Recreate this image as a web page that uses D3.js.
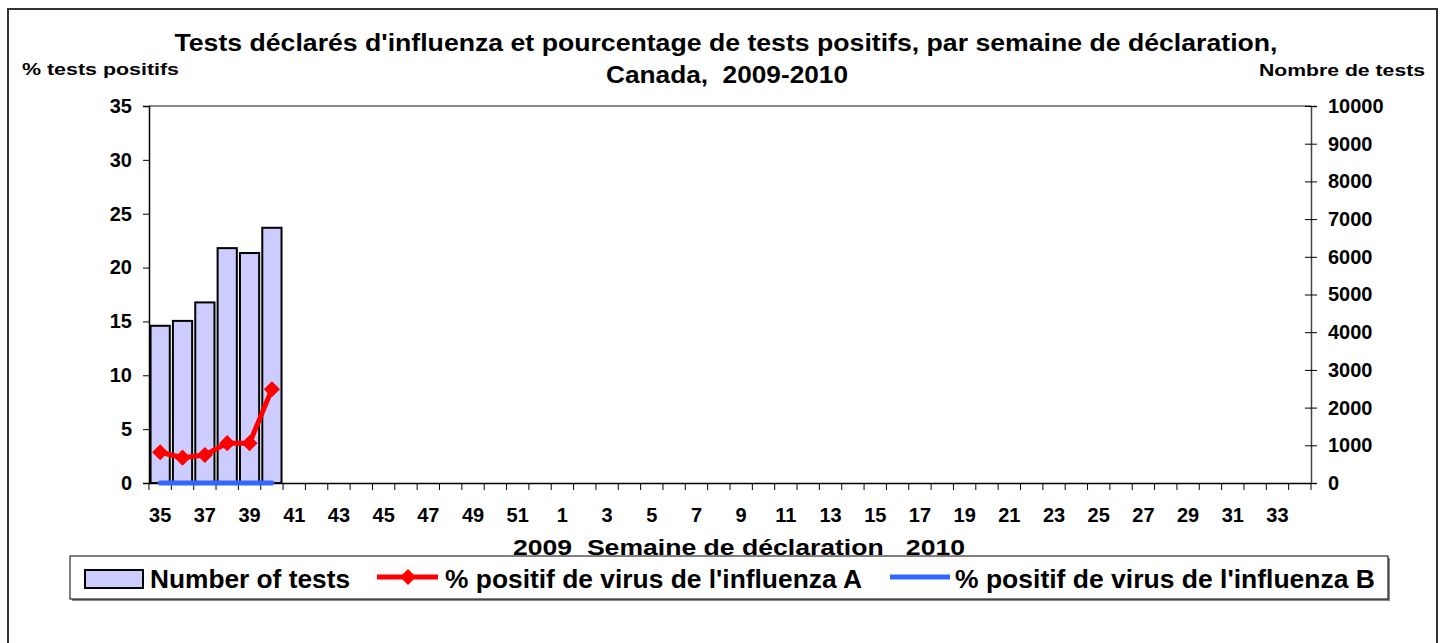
<!DOCTYPE html>
<html lang="fr">
<head>
<meta charset="UTF-8">
<title>Tests d'influenza</title>
<script src="https://d3js.org/d3.v7.min.js"></script>
<style>
    body { margin: 0; background: #fff; }
    text { font-family: 'Liberation Sans', Arial, sans-serif; font-weight: bold; fill: #000; white-space: pre; }
</style>
</head>
<body>
<script>

    const width  = 1442;
    const height = 643;

    // weeks 35..52 of 2009 then 1..34 of 2010
    const weeks = [35, 36, 37, 38, 39, 40, 41, 42, 43, 44, 45, 46, 47, 48, 49, 50, 51, 52,
                   1, 2, 3, 4, 5, 6, 7, 8, 9, 10, 11, 12, 13, 14, 15, 16, 17, 18, 19, 20,
                   21, 22, 23, 24, 25, 26, 27, 28, 29, 30, 31, 32, 33, 34];
    const nbTests   = [4170, 4300, 4790, 6230, 6100, 6770];
    const pctFluA   = [2.85, 2.35, 2.6, 3.7, 3.7, 8.7];
    const pctFluB   = [0, 0, 0, 0, 0, 0];
    const leftTicks  = [0, 5, 10, 15, 20, 25, 30, 35];
    const rightTicks = [0, 1000, 2000, 3000, 4000, 5000, 6000, 7000, 8000, 9000, 10000];

    const plot = {left: 149, right: 1311, top: 106, bottom: 483};
    const font = "'Liberation Sans', Arial, sans-serif";

    // stretch a label to the width it has in the original
    function fit(sel, w) {
        return sel.attr("textLength", w).attr("lengthAdjust", "spacingAndGlyphs");
    }

    const svg = d3.select("body").append("svg")
        .attr("width", width)
        .attr("height", height);

    // outer frame
    svg.append("rect")
        .attr("x", 8).attr("y", 9)
        .attr("width", 1429).attr("height", 700)
        .attr("fill", "none").attr("stroke", "#333").attr("stroke-width", 2);

    const keys = weeks.map((w, i) => i);
    const x = d3.scaleBand()
        .domain(keys)
        .range([plot.left, plot.right])
        .paddingInner(0.14)
        .paddingOuter(0.07);

    const yLeft = d3.scaleLinear().domain([0, 35]).range([plot.bottom, plot.top]);
    const yRight = d3.scaleLinear().domain([0, 10000]).range([plot.bottom, plot.top]);

    // plot area top border
    svg.append("line")
        .attr("x1", plot.left).attr("x2", plot.right)
        .attr("y1", plot.top).attr("y2", plot.top)
        .attr("stroke", "#888").attr("stroke-width", 2);

    // bars
    svg.selectAll(".bar")
        .data(nbTests)
        .enter().append("rect")
        .attr("class", "bar")
        .attr("x", (d, i) => x(i))
        .attr("width", x.bandwidth())
        .attr("y", d => yRight(d))
        .attr("height", d => yRight(0) - yRight(d))
        .attr("fill", "#ccccff")
        .attr("stroke", "#000")
        .attr("stroke-width", 2);

    // left axis
    const gl = svg.append("g")
        .attr("transform", "translate(" + plot.left + ",0)")
        .call(d3.axisLeft(yLeft).tickValues(leftTicks).tickSize(6).tickPadding(11));
    // right axis, ticks crossing the line
    const gr = svg.append("g")
        .attr("transform", "translate(" + plot.right + ",0)")
        .call(d3.axisRight(yRight).tickValues(rightTicks).tickFormat(d3.format("d"))
            .tickSize(6).tickPadding(11));
    gr.selectAll(".tick").append("line")
        .attr("x2", -6).attr("stroke", "#000");

    [gl, gr].forEach(g => {
        g.select(".domain").attr("stroke", "#000").attr("stroke-width", 1.5);
        g.selectAll(".tick line").attr("stroke", "#000");
        g.selectAll("text").style("font-size", "20px").style("font-family", font).style("font-weight", "bold");
    });
    gr.select(".domain").attr("stroke", "#444");

    // x axis: labels every second week
    const gx = svg.append("g")
        .attr("transform", "translate(0," + plot.bottom + ")")
        .call(d3.axisBottom(x)
            .tickValues(keys.filter(k => k % 2 === 0))
            .tickFormat(k => weeks[k])
            .tickSize(0)
            .tickPadding(25));
    gx.select(".domain").attr("stroke", "#000").attr("stroke-width", 1.5);
    gx.selectAll("text").style("font-size", "20px").style("font-family", font).style("font-weight", "bold");

    // x ticks on category boundaries
    svg.append("g").selectAll("line")
        .data(keys.concat([keys.length]))
        .enter().append("line")
        .attr("x1", k => plot.left + k * x.step())
        .attr("x2", k => plot.left + k * x.step())
        .attr("y1", plot.bottom)
        .attr("y2", plot.bottom + 7)
        .attr("stroke", "#000");

    const cx = i => x(i) + x.bandwidth() / 2;

    // influenza B line
    svg.append("path")
        .datum(pctFluB)
        .attr("fill", "none")
        .attr("stroke", "#3366ff")
        .attr("stroke-width", 5)
        .attr("stroke-linecap", "round")
        .attr("d", d3.line().x((d, i) => cx(i)).y(d => yLeft(d)));

    // influenza A line
    svg.append("path")
        .datum(pctFluA)
        .attr("fill", "none")
        .attr("stroke", "#ff0000")
        .attr("stroke-width", 5)
        .attr("d", d3.line().x((d, i) => cx(i)).y(d => yLeft(d)));

    const diamond = d3.symbol().type(d3.symbolSquare).size(130);
    svg.selectAll(".ptA")
        .data(pctFluA)
        .enter().append("path")
        .attr("class", "ptA")
        .attr("transform", (d, i) => "translate(" + cx(i) + "," + yLeft(d) + ") rotate(45)")
        .attr("d", diamond)
        .attr("fill", "#ff0000");

    // titles
    fit(svg.append("text")
        .attr("x", 726).attr("y", 51)
        .attr("text-anchor", "middle")
        .style("font-size", "23px")
        .text("Tests déclarés d'influenza et pourcentage de tests positifs, par semaine de déclaration,"), 1103);
    fit(svg.append("text")
        .attr("x", 727).attr("y", 83)
        .attr("text-anchor", "middle")
        .style("font-size", "23px")
        .text("Canada,  2009-2010"), 242);
    fit(svg.append("text")
        .attr("x", 22).attr("y", 75)
        .style("font-size", "17px")
        .text("% tests positifs"), 157);
    fit(svg.append("text")
        .attr("x", 1259).attr("y", 76)
        .style("font-size", "17px")
        .text("Nombre de tests"), 166);
    fit(svg.append("text")
        .attr("x", 513).attr("y", 555)
        .style("font-size", "22px")
        .text("2009  Semaine de déclaration   2010"), 452);

    // legend
    const lg = svg.append("g");
    lg.append("rect")
        .attr("x", 72).attr("y", 558).attr("width", 1318).attr("height", 43)
        .attr("fill", "#888");
    lg.append("rect")
        .attr("x", 70).attr("y", 556).attr("width", 1318).attr("height", 43)
        .attr("fill", "#fff").attr("stroke", "#000").attr("stroke-width", 1);

    lg.append("rect")
        .attr("x", 85).attr("y", 570).attr("width", 58).attr("height", 18)
        .attr("fill", "#ccccff").attr("stroke", "#000").attr("stroke-width", 2);
    fit(lg.append("text").attr("x", 150).attr("y", 588).style("font-size", "25px")
        .text("Number of tests"), 200);

    lg.append("line").attr("x1", 377).attr("x2", 438).attr("y1", 577).attr("y2", 577)
        .attr("stroke", "#ff0000").attr("stroke-width", 5);
    lg.append("path").attr("transform", "translate(408,577) rotate(45)").attr("d", diamond).attr("fill", "#ff0000");
    fit(lg.append("text").attr("x", 445).attr("y", 588).style("font-size", "25px")
        .text("% positif de virus de l'influenza A"), 417);

    lg.append("line").attr("x1", 890).attr("x2", 950).attr("y1", 577).attr("y2", 577)
        .attr("stroke", "#3366ff").attr("stroke-width", 5);
    fit(lg.append("text").attr("x", 955).attr("y", 588).style("font-size", "25px")
        .text("% positif de virus de l'influenza B"), 420);

</script>
</body>
</html>
